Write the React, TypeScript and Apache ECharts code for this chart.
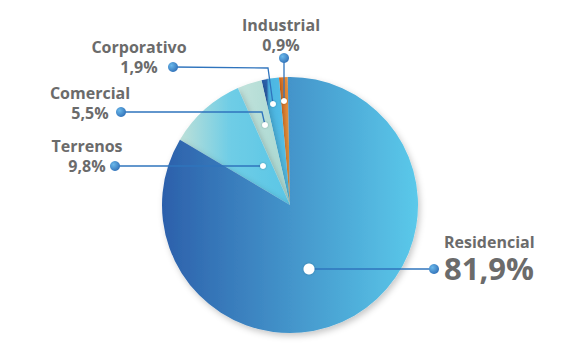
import React, { useEffect, useRef } from "react";
import * as echarts from "echarts";

const categories = ["Industrial", "Corporativo", "Comercial", "Terrenos", "Residencial"];
// slice sizes as drawn in the picture (angular share, %)
const sliceValues = [1.1, 2.2, 3.1, 9.8, 83.8];
// printed percentages
const valueLabels = ["0,9%", "1,9%", "5,5%", "9,8%", "81,9%"];

const gradientStops: [number, string][][] = [
  [[0, "#d8661a"], [1, "#f7a549"]],
  [[0, "#2a5ca6"], [0.18, "#2d63ad"], [0.26, "#4cb5e2"], [1, "#56c1e8"]],
  [[0, "#c2e3dc"], [1, "#a8d8d1"]],
  [[0, "#bde0d8"], [0.45, "#6fcde6"], [1, "#5ac6e6"]],
  [[0, "#2c60ab"], [1, "#5bc9ea"]],
];

// label placement (style only)
const layouts: { x: number; y: number; align: string; line: number[][] }[] = [
  { x: 281, y: 35, align: "center", line: [[284, 101], [284, 58]] },
  { x: 139, y: 57, align: "center", line: [[273, 104], [268, 68], [173, 67]] },
  { x: 90, y: 102.5, align: "center", line: [[265, 125], [262, 112], [121, 112]] },
  { x: 87, y: 155.5, align: "center", line: [[263, 166], [115, 166]] },
  { x: 444, y: 257, align: "left", line: [[309, 269], [434, 269]] },
];

const FONT = "'Open Sans', 'Noto Sans', sans-serif";
const TXT = "#6b6b6b";
const LINE = "#2f74bd";

export default function App() {
  const ref = useRef<HTMLDivElement>(null);
  useEffect(() => {
    if (!ref.current) return;
    const chart = echarts.init(ref.current, undefined, { renderer: "svg" });
    const last = categories.length - 1;
    const data = categories.map((name, i) => ({
      name,
      value: sliceValues[i],
      itemStyle: {
        color: new echarts.graphic.LinearGradient(
          0,
          0,
          1,
          0,
          gradientStops[i].map(([offset, color]) => ({ offset, color }))
        ),
      },
      label: {
        formatter:
          i === last
            ? `{rn|${name}}\n{big|${valueLabels[i]}}`
            : `{n|${name}}\n{v|${valueLabels[i]}}`,
      },
    }));

    const graphics: any[] = [];
    layouts.forEach((l, i) => {
      const a = l.line[0];
      const b = l.line[l.line.length - 1];
      graphics.push({
        type: "polyline",
        z: 90,
        shape: { points: l.line },
        style: { stroke: LINE, lineWidth: 1.3, fill: null },
      });
      graphics.push({
        type: "circle",
        z: 100,
        shape: { cx: a[0], cy: a[1], r: i === last ? 5.5 : 3 },
        style: { fill: "#ffffff", shadowBlur: 2, shadowColor: "rgba(0,0,0,0.25)" },
      });
      graphics.push({
        type: "circle",
        z: 100,
        shape: { cx: b[0], cy: b[1], r: 5 },
        style: {
          fill: new echarts.graphic.RadialGradient(0.35, 0.35, 0.8, [
            { offset: 0, color: "#6ab8ea" },
            { offset: 1, color: "#2a68b2" },
          ]),
        },
      });
    });

    chart.setOption({
      animation: false,
      graphic: graphics,
      series: [
        {
          type: "pie",
          center: [290, 205],
          radius: 128,
          startAngle: 91,
          clockwise: false,
          silent: true,
          itemStyle: {
            shadowBlur: 6,
            shadowOffsetX: 2,
            shadowOffsetY: 3,
            shadowColor: "rgba(0,0,0,0.22)",
          },
          label: {
            show: true,
            position: "outside",
            fontFamily: FONT,
            rich: {
              n: { fontSize: 16, fontWeight: "bold", lineHeight: 20, color: TXT, fontFamily: FONT },
              v: { fontSize: 16, fontWeight: "bold", lineHeight: 20, color: TXT, fontFamily: FONT },
              rn: { fontSize: 16, fontWeight: "bold", lineHeight: 22, color: TXT, fontFamily: FONT },
              big: { fontSize: 31, fontWeight: "bold", lineHeight: 30, color: TXT, fontFamily: FONT },
            },
          },
          labelLine: { show: false },
          labelLayout: (params: any) => {
            const l = layouts[params.dataIndex];
            return {
              x: l.x,
              y: l.y,
              align: l.align,
              verticalAlign: "middle",
            };
          },
          data,
        },
      ],
    });
    return () => chart.dispose();
  }, []);
  return (
    <div
      ref={ref}
      style={{ position: "fixed", left: 0, top: 0, width: 579, height: 356, background: "#fff" }}
    />
  );
}
